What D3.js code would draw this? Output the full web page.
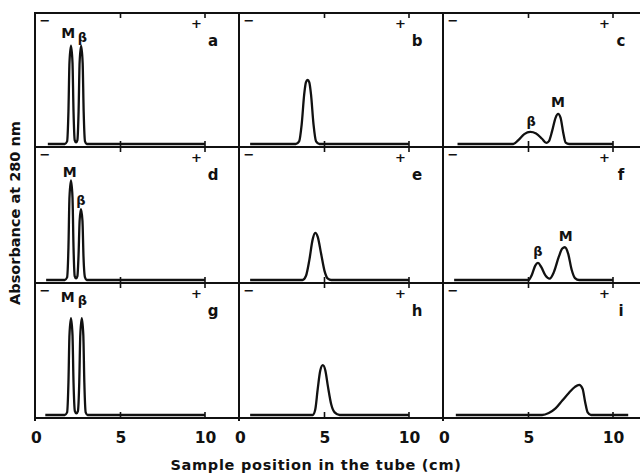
<!DOCTYPE html>
<html>
<head>
<meta charset="utf-8">
<script src="https://cdn.jsdelivr.net/npm/d3@7"></script>
<style>
  body { margin: 0; background: #fff; }
  svg { display: block; }
  text { font-family: "DejaVu Sans", sans-serif; font-weight: bold; fill: #111; }
</style>
</head>
<body>
<svg></svg>
<script>
'use strict';

// panel letters, in reading order
var panelIds = ['a', 'b', 'c', 'd', 'e', 'f', 'g', 'h', 'i'];

// traces: [position (cm), absorbance (arbitrary units)]
var traceA = [[0.7, 0], [1.7, 0], [1.84, 0.02], [1.92, 0.25], [1.98, 0.62], [2.07, 0.75], [2.16, 0.62], [2.22, 0.25], [2.29, 0.03], [2.37, 0.012], [2.45, 0.03], [2.52, 0.25], [2.58, 0.62], [2.67, 0.75], [2.76, 0.62], [2.82, 0.25], [2.9, 0.02], [3.0, 0], [10, 0]];
var traceB = [[0.6, 0], [3.3, 0], [3.5, 0.02], [3.65, 0.15], [3.8, 0.38], [3.9, 0.47], [4.0, 0.49], [4.1, 0.47], [4.2, 0.38], [4.35, 0.15], [4.5, 0.02], [4.7, 0], [10, 0]];
var traceC = [[0.8, 0], [4.1, 0], [4.4, 0.03], [4.75, 0.075], [5.1, 0.092], [5.45, 0.08], [5.8, 0.04], [6.05, 0.008], [6.2, 0.02], [6.4, 0.1], [6.6, 0.2], [6.75, 0.23], [6.9, 0.2], [7.05, 0.09], [7.2, 0.01], [7.4, 0], [10, 0]];
var traceD = [[0.6, 0], [1.7, 0], [1.84, 0.02], [1.92, 0.25], [1.98, 0.63], [2.07, 0.76], [2.16, 0.63], [2.22, 0.25], [2.29, 0.03], [2.37, 0.012], [2.45, 0.03], [2.52, 0.2], [2.58, 0.45], [2.66, 0.54], [2.75, 0.45], [2.81, 0.18], [2.9, 0.02], [3.0, 0], [10, 0]];
var traceE = [[0.6, 0], [3.7, 0], [3.9, 0.03], [4.1, 0.15], [4.3, 0.31], [4.45, 0.36], [4.6, 0.33], [4.8, 0.2], [5.0, 0.07], [5.2, 0.01], [5.4, 0], [10, 0]];
var traceF = [[0.6, 0], [5.0, 0], [5.2, 0.04], [5.4, 0.11], [5.56, 0.13], [5.75, 0.1], [6.0, 0.035], [6.25, 0.01], [6.5, 0.06], [6.8, 0.18], [7.0, 0.24], [7.15, 0.25], [7.35, 0.2], [7.55, 0.08], [7.75, 0.015], [8.0, 0], [10, 0]];
var traceG = [[0.55, 0], [1.7, 0], [1.84, 0.02], [1.92, 0.25], [1.98, 0.61], [2.07, 0.74], [2.16, 0.61], [2.22, 0.25], [2.3, 0.03], [2.39, 0.012], [2.48, 0.03], [2.56, 0.25], [2.62, 0.61], [2.71, 0.74], [2.8, 0.61], [2.86, 0.25], [2.94, 0.02], [3.05, 0], [10, 0]];
var traceH = [[0.6, 0], [4.3, 0], [4.45, 0.04], [4.6, 0.2], [4.75, 0.34], [4.9, 0.38], [5.05, 0.34], [5.2, 0.22], [5.4, 0.08], [5.6, 0.02], [5.9, 0], [10, 0]];
var traceI = [[0.7, 0], [5.8, 0], [6.2, 0.015], [6.6, 0.05], [7.0, 0.11], [7.4, 0.17], [7.75, 0.215], [8.0, 0.23], [8.2, 0.2], [8.35, 0.1], [8.5, 0.02], [8.7, 0], [10.9, 0]];

var traces = [traceA, traceB, traceC, traceD, traceE, traceF, traceG, traceH, traceI];

// peak labels: [panel, text, position (cm), absorbance]
var peakLabels = [
    ['a', 'M', 1.9, 0.81], ['a', 'β', 2.74, 0.78],
    ['c', 'β', 5.15, 0.14], ['c', 'M', 6.75, 0.28],
    ['d', 'M', 2.0, 0.79], ['d', 'β', 2.66, 0.57],
    ['f', 'β', 5.56, 0.18], ['f', 'M', 7.2, 0.3],
    ['g', 'M', 1.87, 0.86], ['g', 'β', 2.74, 0.84]
];

var xTicks = [0, 5, 10];
var xTitle = 'Sample position in the tube (cm)';
var yTitle = 'Absorbance at 280 nm';

var w = 640;
var h = 474;
var colLeft = [35, 239, 443];
var rowTop = [13, 147, 283];
var rowBottom = [147, 283, 418];

var svg = d3.select('svg').attr('width', w).attr('height', h);

// frame
var frame = svg.append('g').attr('stroke', '#111').attr('stroke-width', 2).attr('fill', 'none');
rowTop.concat([rowBottom[2]]).forEach(function (y) {
    frame.append('line').attr('x1', colLeft[0]).attr('x2', w).attr('y1', y).attr('y2', y);
});
colLeft.forEach(function (x) {
    frame.append('line').attr('x1', x).attr('x2', x).attr('y1', rowTop[0] - 1).attr('y2', rowBottom[2] + 3);
});

panelIds.forEach(function (id, i) {
    var col = i % 3;
    var row = Math.floor(i / 3);
    var left = colLeft[col];
    var top = rowTop[row];
    var bottom = rowBottom[row];

    var x = d3.scaleLinear().domain([0, 10]).range([left + 1, left + 170]);
    var y = d3.scaleLinear().domain([0, 1]).range([bottom - 3, bottom - 134]);

    var g = svg.append('g');

    // small tick marks at 5 and 10 cm, top and bottom
    [5, 10].forEach(function (t) {
        g.append('line').attr('x1', x(t)).attr('x2', x(t)).attr('y1', top).attr('y2', top + 5)
            .attr('stroke', '#111').attr('stroke-width', 1.6);
        g.append('line').attr('x1', x(t)).attr('x2', x(t)).attr('y1', bottom).attr('y2', bottom - 6)
            .attr('stroke', '#111').attr('stroke-width', 1.6);
    });

    // electrode signs
    g.append('text').attr('x', left + 10).attr('y', top + 12)
        .attr('text-anchor', 'middle').style('font-size', '13px').text('−');
    g.append('text').attr('x', x(9.5)).attr('y', top + 15)
        .attr('text-anchor', 'middle').style('font-size', '13px').text('+');

    // panel letter
    g.append('text').attr('x', left + 178).attr('y', top + 33)
        .attr('text-anchor', 'middle').style('font-size', '15px').text(id);

    var line = d3.line()
        .x(function (d) { return x(d[0]); })
        .y(function (d) { return y(d[1]); })
        .curve(d3.curveMonotoneX);

    g.append('path').datum(traces[i]).attr('d', line)
        .attr('fill', 'none').attr('stroke', '#111').attr('stroke-width', 2.3)
        .attr('stroke-linejoin', 'round');

    peakLabels.filter(function (p) { return p[0] === id; }).forEach(function (p) {
        g.append('text').attr('x', x(p[2])).attr('y', y(p[3]))
            .attr('text-anchor', 'middle')
            .style('font-size', p[1] === 'M' ? '14px' : '13px')
            .text(p[1]);
    });

    // tick labels under the bottom row
    if (row === 2) {
        var axis = d3.axisBottom(x).tickValues(xTicks).tickSize(0).tickPadding(14)
            .tickFormat(d3.format('d'));
        var ax = svg.append('g').attr('transform', 'translate(0,' + bottom + ')').call(axis);
        ax.select('.domain').remove();
        ax.selectAll('text').style('font-size', '15.5px')
            .style('font-family', '"DejaVu Sans", sans-serif').style('font-weight', 'bold')
            .attr('fill', '#111');
    }
});

svg.append('text').attr('x', 316).attr('y', 470).attr('text-anchor', 'middle')
    .style('font-size', '14.5px').style('letter-spacing', '0.7px').text(xTitle);

svg.append('text').attr('transform', 'translate(20,213) rotate(-90)').attr('text-anchor', 'middle')
    .style('font-size', '14.5px').text(yTitle);
</script>
</body>
</html>
